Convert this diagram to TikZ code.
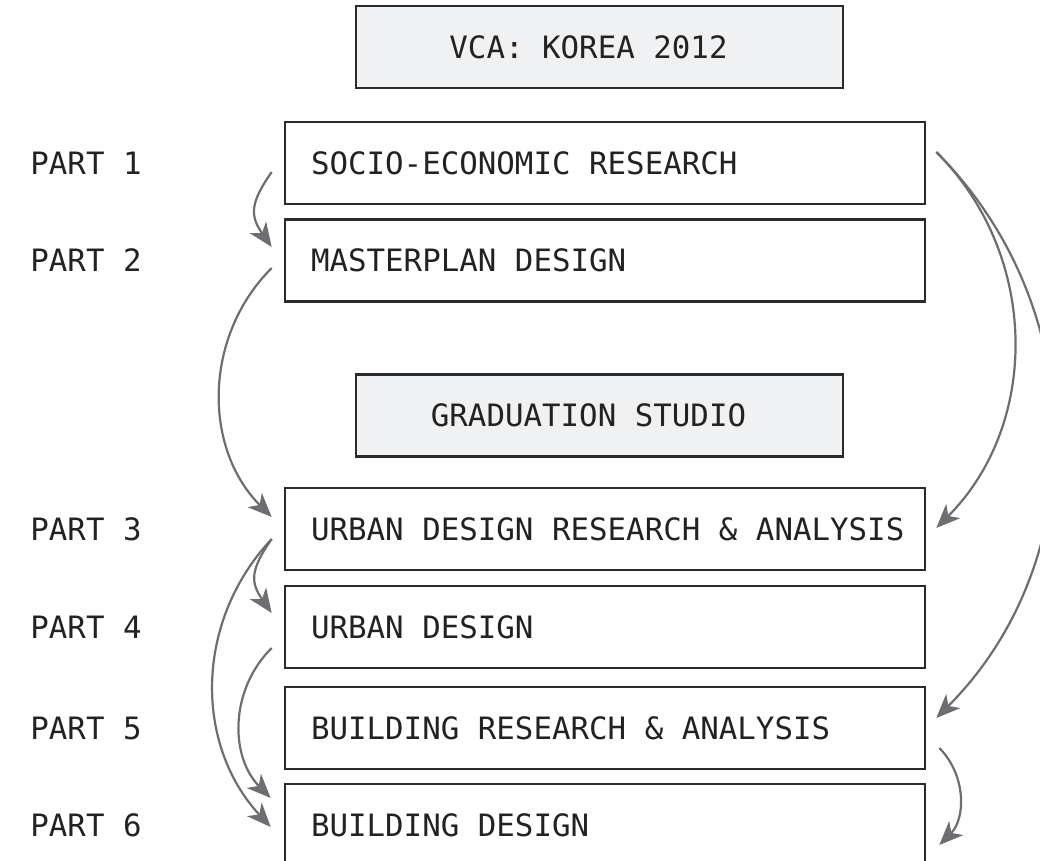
\documentclass[tikz,border=0pt]{standalone}
\usepackage{fontspec}
\setmonofont{DejaVu Sans Mono}
\usepackage{tikz}
\usetikzlibrary{arrows.meta}

\definecolor{boxline}{HTML}{2B2B2B}
\definecolor{headfill}{HTML}{F0F1F3}
\definecolor{flowgray}{HTML}{6D6E71}
\definecolor{ink}{HTML}{222222}

\tikzset{
    monotext/.style={text=ink, font=\ttfamily\fontsize{15.4}{18}\selectfont},
    framebox/.style={monotext, draw=boxline, line width=1.3pt, minimum height=41pt},
    partbox/.style={framebox, inner xsep=8pt, text width=304pt, align=left,
        execute at begin node={\spaceskip=0pt\xspaceskip=0pt\hspace*{5pt}}},
    headbox/.style={framebox, fill=headfill, inner xsep=13pt, text width=217.5pt, align=center,
        execute at begin node={\spaceskip=0pt\xspaceskip=0pt}},
    partlabel/.style={monotext, anchor=west, inner sep=0pt},
    flow/.style={->, draw=flowgray, line width=1.1pt},
}

\begin{document}
\begin{tikzpicture}[x=0.5pt, y=-0.5pt, >={Stealth[length=12pt, width=10pt, inset=3.5pt]}]
    \useasboundingbox (0,0) rectangle (1040,861);

    \node[headbox]      (vca)   at (599.5,47)    {VCA: KOREA 2012\hspace*{11pt}};
    \node[partbox]      (socio) at (605,163)     {SOCIO-ECONOMIC RESEARCH};
    \node[partbox]      (plan)  at (605,260.5)   {MASTERPLAN DESIGN};
    \node[headbox]      (grad)  at (599.5,415.5) {GRADUATION STUDIO\hspace*{11pt}};
    \node[partbox]      (urbra) at (605,529)     {URBAN DESIGN RESEARCH \& ANALYSIS};
    \node[partbox]      (urbd)  at (605,627)     {URBAN DESIGN};
    \node[partbox]      (bldra) at (605,728)     {BUILDING RESEARCH \& ANALYSIS};
    \node[partbox]      (bldd)  at (605,825)     {BUILDING DESIGN};

    \node[partlabel]    (p1)    at (30,163)      {PART 1};
    \node[partlabel]    (p2)    at (30,260.5)    {PART 2};
    \node[partlabel]    (p3)    at (30,529)      {PART 3};
    \node[partlabel]    (p4)    at (30,627)      {PART 4};
    \node[partlabel]    (p5)    at (30,728)      {PART 5};
    \node[partlabel]    (p6)    at (30,825)      {PART 6};

    \path
        ([shift={(-12,9)}]socio.west)
            edge [flow, bend right=35, looseness=1.3] ([shift={(-12,-13.5)}]plan.west)
        ([shift={(-12,7.5)}]plan.west)
            edge [flow, bend right=45] ([shift={(-12,-12)}]urbra.west)
        ([shift={(-12,10)}]urbra.west)
            edge [flow, bend right=35, looseness=1.3] ([shift={(-12,-14)}]urbd.west)
            edge [flow, bend right=43] ([shift={(-13,2)}]bldd.west)
        ([shift={(-12,21)}]urbd.west)
            edge [flow, bend right=45] ([shift={(-13,-27)}]bldd.west)
        ([shift={(10,-11)}]socio.east)
            edge [flow, bend left=45] ([shift={(10,-1)}]urbra.east)
            edge [flow, bend left=45] ([shift={(10,-10)}]bldra.east)
        ([shift={(13,20)}]bldra.east)
            edge [flow, bend left=45] ([shift={(13,20)}]bldd.east)
        ;
\end{tikzpicture}
\end{document}
